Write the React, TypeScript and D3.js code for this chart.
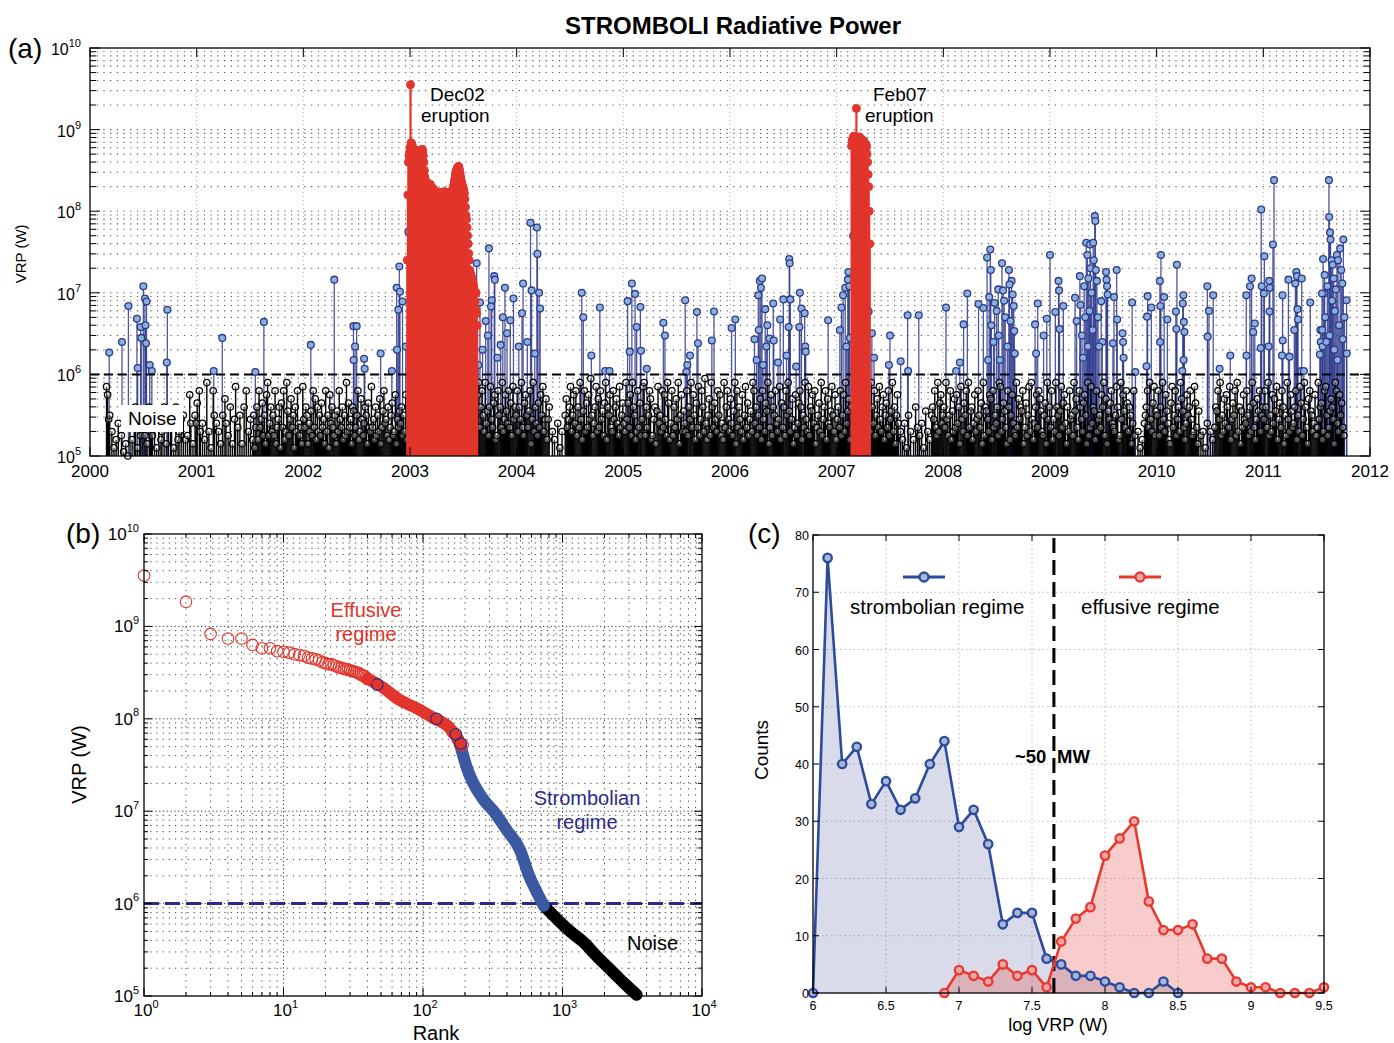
import React from "react";
import * as d3 from "d3";

const FONT = "'Liberation Sans', Arial, Helvetica, sans-serif";

// ---------- Panel (a) data ----------
const YEAR_TICKS = [2000, 2001, 2002, 2003, 2004, 2005, 2006, 2007, 2008, 2009, 2010, 2011, 2012];
// noise level codes: a = 1.0e5 ... t = 8.9e5 (0.05 decade steps), "." = no detection
const NOISE_CODES = "abcdefghijklmnopqrst";
const NOISE_LOG_LEVELS = [5.0, 5.05, 5.1, 5.15, 5.2, 5.25, 5.3, 5.35, 5.4, 5.45, 5.5, 5.55, 5.6, 5.65, 5.7, 5.75, 5.8, 5.85, 5.9, 5.95];
const NOISE_SEGMENTS: [number, number, string][] = [
  [2000.15, 2001.0, "rpjk.g.c.e.i..f.b.d.a.k.e.hm.c.jf.h.f.d.mjgf.k.c.i.eg.m.d.k.hi.c.m.eg.j.k.e.f.pi.d.ki"],
  [2001.0, 2002.0, "n.qg.i.e.s.g.c.qk.i.g.d.k.oi.f.m.d.jr.h.k.d.m.q.g.j.ekchmeqhjnfkdpsfimgkfqdhjmcnhqegslfjohkcmgqifhdr"],
  [2002.0, 2002.975, "jhmkdiglfqhoemgkfnhjdqgkcpimhfkdlgqjhmekfsgnhjdmlfhkqegojfimkdnhgrhjemfkgodhlqijfmehknfgpdjhlimfkgpe"],
  [2003.63, 2004.0, "pshmqkgsilfmrjhnpefqkmhsgjpliqhnfrjmk"],
  [2004.0, 2005.0, "qgmjshfnpkhlqdjsgmifnhpkrgjoejm..g.e..i.c.g..kohjmrgkpiqfmhsjelqgnhpjtkfimrgohqjlfnsemkphgqjmoifrhkn"],
  [2005.0, 2006.0, "igsjnhpfsmkegqhnfjrsfmhkqoefjmdlrikgqhpjfsneiqfmhojsdkpgligqfmjshpkenhrfjqmgtiekofsmhnjgqkpfieshmqjg"],
  [2006.0, 2007.0, "oiflsdqhmjgpekrhnfjlgsqimfkhoeqjgnlsdhpfmkqigjrenhmfqkslgjodhpfinqmekhsjgrfmlpiqdhkngsfjmqeoihlrkgpe"],
  [2007.0, 2007.14, "jmhqfkpgsiloem"],
  [2007.31, 2008.0, "gsmiqfkohrjgmpeknhqfjlsgmdkpi.g.e.i.c.k.g..e.m.h.f.i.c.l.g.e.kmjqhfsgnpik"],
  [2008.0, 2009.0, "mhsjfkqelgohpimdrjgnkqfshlmeipgjqkhndsfmljgpoeqhkimfsrgjnlhdqmekpigfshojmlqdhnfkrgsjeimphqolgfkndsjm"],
  [2009.0, 2010.0, "hqejgsmkflrhnpidmgqjkfsloheqmjgnpkdsfhrimleqgjkhpmsfodljnqihgkrmefsjplhqngmkdiqf..g.c.e.ikmqhsjgnrfl"],
  [2010.0, 2011.0, "kqfmhsjgpliednrhkqfjmgsolheipkmqjfgrnhdl.f.g.c.i..g.e.hmlqjsfkgoipmhrejnkqfsgmdlhpjiqkfmgsnhejolqgkm"],
  [2011.0, 2011.76, "jqmhsfkgpiolrejnhqmdkfsjgplhimqekgrnfjsmhdoqlkgipfhsjmnegqrkfhlomjdsqigpknhf"],
];

const BLUE_EVENTS: [number, number][] = [
  [2000.18, 1.85e6], [2000.30, 2.5e6], [2000.36, 6.9e6], [2000.44, 4.8e6], [2000.447, 1.2e6], [2000.475, 3.8e6],
  [2000.48, 2.8e6], [2000.50, 1.2e7], [2000.515, 8.5e6], [2000.53, 7.8e6], [2000.52, 4e6], [2000.525, 2.4e6],
  [2000.56, 1.3e6], [2000.58, 1.1e6], [2000.725, 6.2e6], [2000.72, 1.4e6],
  [2001.16, 1.1e6], [2001.24, 2.8e6], [2001.55, 1.07e6], [2001.63, 4.4e6],
  [2002.07, 2.3e6], [2002.29, 1.45e7], [2002.47, 3.9e6], [2002.50, 3.9e6], [2002.485, 2.2e6], [2002.472, 1.5e6],
  [2002.57, 1.55e6], [2002.575, 1.17e6], [2002.725, 1.8e6], [2002.83, 1.1e6], [2002.90, 2.1e7], [2002.875, 1.15e7],
  [2002.89, 6.2e6], [2002.906, 1.03e7], [2002.93, 7.8e6], [2002.878, 2e6], [2002.96, 2.2e6], [2002.985, 5.6e7],
  [2003.625, 2.3e7], [2003.656, 7.6e6], [2003.74, 3.5e7], [2003.79, 1.6e7], [2003.795, 1.45e7], [2003.766, 8.1e6],
  [2003.76, 6.8e6], [2003.71, 4.5e6], [2003.87, 5e6], [2003.89, 1.15e7], [2003.94, 4.6e6], [2003.97, 8.5e6],
  [2004.06, 1.3e7], [2004.05, 5.6e6], [2004.13, 7.2e7], [2004.19, 6.3e7], [2004.195, 3e7], [2004.14, 1.07e7],
  [2004.21, 1e7], [2004.22, 6.4e6], [2004.10, 2.5e6], [2003.85, 2.3e6], [2003.68, 2e6], [2003.73, 3e6],
  [2003.82, 1.6e6], [2003.91, 3.2e6], [2004.02, 2.2e6], [2004.17, 1.8e6], [2003.64, 1.3e6],
  [2004.61, 1e7], [2004.625, 5e6], [2004.70, 1.7e6], [2004.78, 6.6e6], [2004.83, 1.1e6], [2004.87, 1.1e6],
  [2005.04, 7.9e6], [2005.08, 1.3e7], [2005.11, 9.7e6], [2005.125, 3.8e6], [2005.16, 6.7e6], [2005.165, 1.95e6],
  [2005.06, 1.9e6], [2005.22, 1.17e6], [2005.375, 4.3e6], [2005.39, 3e6], [2005.58, 8.1e6], [2005.625, 1.7e6],
  [2005.60, 1.3e6], [2005.59, 1.07e6], [2005.69, 5.8e6], [2005.70, 2.4e6], [2005.83, 2.6e6], [2005.85, 5.9e6],
  [2006.015, 3.7e6], [2006.05, 4.7e6], [2006.23, 2.7e6], [2006.265, 9.3e6], [2006.28, 1.4e7], [2006.30, 1.5e7],
  [2006.29, 1.15e7], [2006.33, 6.3e6], [2006.34, 2.2e6], [2006.37, 2.75e6], [2006.405, 7.4e6], [2006.41, 2.6e6],
  [2006.47, 4.7e6], [2006.50, 8.3e6], [2006.555, 2.6e7], [2006.56, 2.3e7], [2006.565, 8.3e6], [2006.55, 3.8e6],
  [2006.655, 1e7], [2006.67, 6.4e6], [2006.70, 5.6e6], [2006.705, 2.2e6], [2006.71, 1.9e6], [2006.65, 3.8e6],
  [2006.92, 4.6e6], [2006.25, 1.5e6], [2006.27, 3.5e6], [2006.31, 1.3e6], [2006.35, 4e6], [2006.45, 1.4e6],
  [2006.53, 1.7e6], [2006.62, 1.25e6],
  [2007.045, 6.6e6], [2007.06, 9.3e6], [2007.11, 1.8e7], [2007.105, 1.45e7], [2007.08, 1.15e7], [2007.12, 1.2e7],
  [2007.125, 2.8e6], [2007.155, 5e7], [2007.03, 3.5e6], [2007.09, 2.2e6],
  [2007.30, 5.9e6], [2007.33, 3.2e6], [2007.35, 1.6e6], [2007.50, 3e6], [2007.49, 1.3e6], [2007.665, 5.3e6],
  [2007.77, 5.3e6], [2007.60, 1.45e6], [2007.67, 1.1e6],
  [2008.025, 6.6e6], [2008.12, 1.1e6], [2008.155, 1.4e6], [2008.19, 4.1e6], [2008.225, 9.8e6], [2008.33, 7.3e6],
  [2008.375, 6.5e6], [2008.41, 2.7e7], [2008.44, 3.4e7], [2008.445, 1.9e7], [2008.43, 8.9e6], [2008.45, 4e6],
  [2008.50, 6e6], [2008.515, 1.1e7], [2008.55, 2.3e7], [2008.56, 1.07e7], [2008.615, 1.9e7], [2008.64, 1.4e7],
  [2008.62, 1.26e7], [2008.65, 9.5e6], [2008.66, 6.9e6], [2008.665, 3.4e6], [2008.67, 1.8e6], [2008.47, 2.5e6],
  [2008.52, 3e6], [2008.58, 5e6], [2008.60, 2.2e6], [2008.53, 1.5e6], [2008.57, 8e6], [2008.63, 4.5e6],
  [2008.42, 1.5e6], [2008.48, 7.5e6],
  [2008.86, 4.1e6], [2008.885, 7.4e6], [2008.87, 1.8e6], [2008.94, 3e6], [2008.97, 4.8e6], [2009.0, 2.9e7],
  [2009.05, 5.8e6], [2009.08, 1.4e7], [2009.085, 1.07e7], [2009.09, 3.6e6], [2009.125, 6.9e6],
  [2009.235, 8.7e6], [2009.28, 1.6e7], [2009.285, 7.1e6], [2009.25, 4.5e6], [2009.34, 4.1e7], [2009.375, 3.9e7],
  [2009.405, 4.1e7], [2009.35, 2.9e7], [2009.38, 2e7], [2009.42, 8.7e7], [2009.425, 7.6e7], [2009.41, 2.5e7],
  [2009.43, 1.9e7], [2009.525, 1.8e7], [2009.53, 1.45e7], [2009.535, 1.2e7], [2009.54, 9.5e6], [2009.60, 8.9e6],
  [2009.625, 1.9e7], [2009.48, 7.9e6], [2009.49, 2.5e6], [2009.59, 2.4e6], [2009.30, 3e6], [2009.32, 1.2e7],
  [2009.33, 5e6], [2009.36, 1.5e7], [2009.37, 6e6], [2009.39, 1e7], [2009.40, 3.5e6], [2009.44, 1.4e7],
  [2009.45, 5e6], [2009.46, 2.2e6], [2009.31, 1.6e6], [2009.355, 2.2e6],
  [2009.63, 4.7e6], [2009.68, 3.2e6], [2009.685, 2.5e6], [2009.69, 1.6e6], [2009.77, 7.6e6], [2009.80, 1.07e6],
  [2009.915, 9.1e6], [2009.91, 5.1e6], [2009.95, 6.6e6], [2009.905, 1.26e6],
  [2010.04, 2.9e7], [2010.03, 1.4e7], [2010.035, 6.9e6], [2010.032, 2.5e6], [2010.07, 8.9e6], [2010.10, 4.7e6],
  [2010.19, 2.2e7], [2010.18, 5.9e6], [2010.185, 3.6e6], [2010.25, 9.3e6], [2010.245, 7.4e6], [2010.255, 4.4e6],
  [2010.26, 3.3e6], [2010.252, 1.5e6], [2010.24, 1.1e6],
  [2010.475, 1.2e7], [2010.49, 6e6], [2010.478, 2.9e6], [2010.53, 9.3e6], [2010.59, 1.17e6], [2010.69, 1.7e6],
  [2010.84, 9.3e6], [2010.842, 1.7e6], [2010.875, 1.2e7], [2010.89, 1.5e7], [2010.905, 3.3e6], [2010.92, 4.2e6],
  [2010.98, 1.05e8], [2010.985, 1.2e7], [2010.975, 2.1e6], [2011.01, 2.8e7], [2011.005, 9.8e6], [2011.055, 1.4e7],
  [2011.06, 1.15e7], [2011.058, 5.9e6], [2011.05, 2.2e6], [2011.09, 3.9e7], [2011.10, 2.4e8], [2011.18, 9.3e6],
  [2011.182, 2.6e6], [2011.175, 1.7e6], [2011.235, 1.45e7], [2011.245, 1.65e6], [2011.29, 3.5e6], [2011.30, 1.3e7],
  [2011.31, 1.8e7], [2011.315, 1.6e7], [2011.32, 6.3e6], [2011.325, 4.7e6], [2011.36, 1.5e7], [2011.355, 1.1e6],
  [2011.38, 1.1e6], [2011.44, 7.6e6],
  [2011.535, 3.5e6], [2011.538, 2.5e6], [2011.53, 1.75e6], [2011.56, 2.6e7], [2011.57, 9.8e6], [2011.575, 1.65e7],
  [2011.615, 2.4e8], [2011.617, 8.5e7], [2011.625, 5.5e7], [2011.63, 4.5e7], [2011.64, 2.5e7], [2011.65, 2.2e7],
  [2011.66, 1.5e7], [2011.69, 2.9e7], [2011.70, 2.5e7], [2011.72, 3.5e7], [2011.75, 4.5e7], [2011.73, 1.9e7],
  [2011.745, 2.7e6], [2011.78, 8.1e6], [2011.782, 1.8e6], [2011.55, 9.8e6], [2011.552, 3.5e6], [2011.555, 2.2e6],
  [2011.58, 5e6], [2011.60, 1.2e7], [2011.62, 3e6], [2011.645, 8e6], [2011.67, 6e6], [2011.68, 1.1e7],
  [2011.71, 4e6], [2011.74, 1.3e7], [2011.76, 5e6], [2011.59, 2.5e6], [2011.665, 2e6], [2011.695, 1.5e6],
];

// Effusive (eruption) series, log10(VRP)*100
const RED_STEP = 0.005;
const DEC02_START = 2002.975;
const DEC02_LOG = [
  740, 820, 860, 868, 872, 878, 955,
  884, 880, 882, 878, 876, 874, 872, 870, 873, 875, 871, 868, 866, 870, 872, 874, 871, 868, 865, 868, 872, 876, 873,
  868, 860, 850, 842, 838, 836, 834, 835, 833,
  832, 830, 828, 831, 833, 830, 826, 824, 826, 828, 825, 822, 824,
  823, 820, 822, 824, 821, 819, 822, 823, 820, 818, 821, 823, 822, 820, 819, 821, 823, 824, 822, 820,
  818, 820, 822, 823, 821, 819, 820, 822, 824, 823, 821, 820, 822, 825, 828, 832, 836, 840, 845, 848,
  850, 852, 853, 854, 855, 853, 850, 846, 842, 838,
  835, 832, 830, 828, 825, 822, 815, 805, 795, 790,
  780, 770, 760, 748, 740,
  728, 725, 722, 720, 718, 715, 712, 710, 705, 700,
  690, 680, 700, 675, 660,
];
const FEB07_START = 2007.14;
const FEB07_LOG = [
  880, 886, 888, 890, 892, 890, 889, 891, 888, 926,
  888, 890, 887, 885, 889, 891, 888, 884, 886, 888, 885, 882, 884, 886, 883, 880, 878, 882, 879,
  870, 860, 845, 830, 800, 760,
];

// ---------- Panel (b) data ----------
const RANK_X_TICKS = [0, 1, 2, 3, 4];
const VRP_EXPS = [5, 6, 7, 8, 9, 10];
const TOP_RANK_VRP = [
  3.55e9, 1.85e9, 8.3e8, 7.4e8, 7.4e8, 6.3e8, 5.8e8, 5.8e8, 5.4e8, 5.3e8,
  5.2e8, 5.0e8, 4.9e8, 4.8e8, 4.6e8, 4.5e8, 4.4e8, 4.3e8, 4.1e8, 4.0e8,
  3.9e8, 3.9e8, 3.8e8, 3.7e8, 3.6e8, 3.55e8, 3.5e8, 3.45e8, 3.4e8, 3.35e8,
  3.3e8, 3.25e8, 3.2e8, 3.15e8, 3.1e8, 3.0e8, 2.95e8, 2.9e8, 2.8e8, 2.7e8,
];
const EFFUSIVE_BAND: [number, number][] = [
  [40, 2.7e8], [50, 2.25e8], [68, 1.6e8], [90, 1.3e8], [119, 1.02e8], [155, 8e7], [172, 6.5e7], [185, 5.2e7],
];
const STROMBOLIAN_BAND: [number, number][] = [
  [185, 5.2e7], [207, 2.9e7], [270, 1.35e7], [330, 9.5e6], [397, 6.3e6], [496, 3.8e6], [580, 1.95e6], [660, 1.3e6], [735, 9.5e5],
];
const NOISE_BAND: [number, number][] = [
  [735, 9.5e5], [913, 6.8e5], [1100, 5.2e5], [1420, 3.8e5], [1800, 2.6e5], [2310, 1.8e5], [2800, 1.35e5], [3400, 1.03e5],
];
const BLUE_IN_RED: [number, number][] = [[47, 2.35e8], [125, 1.0e8], [172, 6.8e7], [186, 5.4e7]];
const RED_IN_BLUE: [number, number][] = [[163, 7.2e7], [178, 6.0e7], [192, 5.2e7]];

// ---------- Panel (c) data ----------
const LOGVRP_TICKS = [6, 6.5, 7, 7.5, 8, 8.5, 9, 9.5];
const COUNT_TICKS = [0, 10, 20, 30, 40, 50, 60, 70, 80];
const STROMB_X = [6.0, 6.1, 6.2, 6.3, 6.4, 6.5, 6.6, 6.7, 6.8, 6.9, 7.0, 7.1, 7.2, 7.3, 7.4, 7.5, 7.6, 7.7, 7.8, 7.9, 8.0, 8.1, 8.2, 8.3, 8.4, 8.5];
const STROMB_Y = [0, 76, 40, 43, 33, 37, 32, 34, 40, 44, 29, 32, 26, 12, 14, 14, 6, 5, 3, 3, 2, 1, 0, 0, 2, 0];
const EFF_X = [6.9, 7.0, 7.1, 7.2, 7.3, 7.4, 7.5, 7.6, 7.7, 7.8, 7.9, 8.0, 8.1, 8.2, 8.3, 8.4, 8.5, 8.6, 8.7, 8.8, 8.9, 9.0, 9.1, 9.2, 9.3, 9.4, 9.5];
const EFF_Y = [0, 4, 3, 2, 5, 3, 4, 1, 9, 13, 15, 24, 27, 30, 16, 11, 11, 12, 6, 6, 2, 1, 1, 0, 0, 0, 1];
const THRESHOLD_LOG = 7.65;

const RED = "#e2352b";
const NAVY = "#2e3a8c";
const LIGHTBLUE = "#8ab0dc";

function Pow10({ x, y, exp, size, sup, anchor }: any) {
  return (
    <text x={x} y={y} fontSize={size} textAnchor={anchor} fill="#000">
      <tspan>10</tspan>
      <tspan dy={-size * 0.5} fontSize={sup}>{exp}</tspan>
    </text>
  );
}

function logMinorValues(lo: number, hi: number) {
  const out: { v: number; major: boolean }[] = [];
  for (let e = lo; e < hi; e++) {
    for (let k = 1; k <= 9; k++) out.push({ v: k * Math.pow(10, e), major: k === 1 });
  }
  out.push({ v: Math.pow(10, hi), major: true });
  return out;
}

export default function App() {
  const xA = d3.scaleLinear().domain([2000, 2012]).range([90, 1370]);
  const yA = d3.scaleLog().domain([1e5, 1e10]).range([456, 48]);
  const xB = d3.scaleLog().domain([1, 1e4]).range([144, 702]);
  const yB = d3.scaleLog().domain([1e5, 1e10]).range([996, 534]);
  const xC = d3.scaleLinear().domain([6, 9.5]).range([813, 1324]);
  const yC = d3.scaleLinear().domain([0, 80]).range([993, 535]);

  const noisePts: { t: number; v: number }[] = [];
  NOISE_SEGMENTS.forEach(([a, b, s]) => {
    const n = s.length;
    for (let i = 0; i < n; i++) {
      const idx = NOISE_CODES.indexOf(s[i]);
      if (idx < 0) continue;
      noisePts.push({ t: a + ((b - a) * (i + 0.5)) / n, v: Math.pow(10, NOISE_LOG_LEVELS[idx]) });
    }
  });
  const redPts = [
    ...DEC02_LOG.map((l, i) => ({ t: DEC02_START + i * RED_STEP, v: Math.pow(10, l / 100) })),
    ...FEB07_LOG.map((l, i) => ({ t: FEB07_START + i * RED_STEP, v: Math.pow(10, l / 100) })),
  ];
  const yGridA = logMinorValues(5, 10).filter((d) => d.v > 1e5 && d.v < 1e10);
  const yTicksA = logMinorValues(5, 10);
  const base = yA(1e5);

  const xGridB = logMinorValues(0, 4);
  const yGridB = logMinorValues(5, 10);
  const bandLine = d3
    .line<[number, number]>()
    .x((d) => xB(d[0]))
    .y((d) => yB(d[1]))
    .curve(d3.curveMonotoneX);

  const strombPts = STROMB_X.map((x, i) => [x, STROMB_Y[i]] as [number, number]);
  const effPts = EFF_X.map((x, i) => [x, EFF_Y[i]] as [number, number]);
  const areaC = d3
    .area<[number, number]>()
    .x((d) => xC(d[0]))
    .y0(yC(0))
    .y1((d) => yC(d[1]));
  const lineC = d3
    .line<[number, number]>()
    .x((d) => xC(d[0]))
    .y((d) => yC(d[1]));

  return (
    <svg
      width={1394}
      height={1043}
      style={{ position: "absolute", left: 0, top: 0, background: "#fff" }}
      fontFamily={FONT}
    >
      <rect x={0} y={0} width={1394} height={1043} fill="#fff" />
      {/* ================= PANEL A ================= */}
      <text x={733} y={34} fontSize={24} fontWeight="bold" textAnchor="middle">
        STROMBOLI Radiative Power
      </text>
      <text x={8} y={58} fontSize={28}>(a)</text>
      {yGridA.map((d, i) => (
        <line key={"ga" + i} x1={90} x2={1370} y1={yA(d.v)} y2={yA(d.v)} stroke="#555" strokeWidth={1.1} strokeDasharray="1.2 5.5" />
      ))}
      {YEAR_TICKS.slice(1, -1).map((yr) => (
        <line key={"gv" + yr} x1={xA(yr)} x2={xA(yr)} y1={48} y2={456} stroke="#aaa" strokeWidth={1} strokeDasharray="1 3" />
      ))}
      <g>
        {BLUE_EVENTS.map((d, i) => (
          <line key={"bs" + i} x1={xA(d[0])} x2={xA(d[0])} y1={base} y2={yA(d[1])} stroke={NAVY} strokeOpacity={0.85} strokeWidth={1.3} />
        ))}
      </g>
      <g>
        {noisePts.map((d, i) => (
          <line key={"ns" + i} x1={xA(d.t)} x2={xA(d.t)} y1={base} y2={yA(d.v)} stroke="#000" strokeWidth={1.4} />
        ))}
        {noisePts.map((d, i) => (
          <circle key={"nc" + i} cx={xA(d.t)} cy={yA(d.v)} r={3.2} fill="#ffffff" fillOpacity={0.3} stroke="#000" strokeWidth={1.25} />
        ))}
      </g>
      <g>
        {BLUE_EVENTS.map((d, i) => (
          <circle key={"bc" + i} cx={xA(d[0])} cy={yA(d[1])} r={3.4} fill={LIGHTBLUE} stroke={NAVY} strokeWidth={1.3} />
        ))}
      </g>
      <line x1={90} x2={1370} y1={yA(1e6)} y2={yA(1e6)} stroke="#000" strokeWidth={2} strokeDasharray="9 5" />
      <g>
        {redPts.map((d, i) => (
          <line key={"rs" + i} x1={xA(d.t)} x2={xA(d.t)} y1={base} y2={yA(d.v)} stroke={RED} strokeWidth={2.2} />
        ))}
        {redPts.map((d, i) => (
          <circle key={"rc" + i} cx={xA(d.t)} cy={yA(d.v)} r={4} fill={RED} stroke={RED} strokeWidth={1} />
        ))}
      </g>
      <text x={430} y={101} fontSize={19}>Dec02</text>
      <text x={421} y={122} fontSize={19}>eruption</text>
      <text x={873} y={101} fontSize={19}>Feb07</text>
      <text x={865} y={122} fontSize={19}>eruption</text>
      <rect x={121} y={405} width={62} height={27} fill="#fff" />
      <text x={128} y={425} fontSize={19}>Noise</text>
      <rect x={90} y={48} width={1280} height={408} fill="none" stroke="#000" strokeWidth={1.3} />
      {yTicksA.map((d, i) => {
        const y = yA(d.v);
        const L = d.major ? 10 : 6;
        return (
          <g key={"ta" + i}>
            <line x1={90} x2={90 + L} y1={y} y2={y} stroke="#000" strokeWidth={1} />
            <line x1={1370} x2={1370 - L} y1={y} y2={y} stroke="#000" strokeWidth={1} />
          </g>
        );
      })}
      {YEAR_TICKS.map((yr) => (
        <g key={"tx" + yr}>
          <line x1={xA(yr)} x2={xA(yr)} y1={456} y2={447} stroke="#000" strokeWidth={1} />
          <line x1={xA(yr)} x2={xA(yr)} y1={48} y2={57} stroke="#000" strokeWidth={1} />
          <text x={xA(yr)} y={477} fontSize={17} textAnchor="middle">{yr}</text>
        </g>
      ))}
      {VRP_EXPS.map((e) => (
        <Pow10 key={"la" + e} x={81} y={yA(Math.pow(10, e)) + 7} exp={e} size={16} sup={11} anchor="end" />
      ))}
      <text transform={`translate(26,${yA(3e7)}) rotate(-90)`} fontSize={15} textAnchor="middle">VRP (W)</text>

      {/* ================= PANEL B ================= */}
      <text x={66} y={543} fontSize={28}>(b)</text>
      {xGridB.filter((d) => d.v > 1 && d.v < 1e4).map((d, i) => (
        <line key={"gbx" + i} x1={xB(d.v)} x2={xB(d.v)} y1={534} y2={996} stroke="#444" strokeWidth={1} strokeDasharray={d.major ? "1.3 2.5" : "1.2 5"} />
      ))}
      {yGridB.filter((d) => d.v > 1e5 && d.v < 1e10).map((d, i) => (
        <line key={"gby" + i} x1={144} x2={702} y1={yB(d.v)} y2={yB(d.v)} stroke="#444" strokeWidth={1} strokeDasharray={d.major ? "1.3 2.5" : "1.2 5"} />
      ))}
      <line x1={144} x2={702} y1={yB(1e6)} y2={yB(1e6)} stroke="#2b2a8a" strokeWidth={3} strokeDasharray="15 6" />
      <path d={bandLine(NOISE_BAND) || ""} fill="none" stroke="#000" strokeWidth={12} strokeLinecap="round" strokeLinejoin="round" />
      <path d={bandLine(STROMBOLIAN_BAND) || ""} fill="none" stroke="#3b58a2" strokeWidth={12} strokeLinecap="round" strokeLinejoin="round" />
      <path d={bandLine(EFFUSIVE_BAND) || ""} fill="none" stroke={RED} strokeWidth={12} strokeLinecap="round" strokeLinejoin="round" />
      {RED_IN_BLUE.map((d, i) => (
        <circle key={"rib" + i} cx={xB(d[0])} cy={yB(d[1])} r={5.8} fill="none" stroke={RED} strokeWidth={1.2} />
      ))}
      {BLUE_IN_RED.map((d, i) => (
        <circle key={"bir" + i} cx={xB(d[0])} cy={yB(d[1])} r={5.8} fill="none" stroke="#2b2a8a" strokeWidth={1.2} />
      ))}
      {TOP_RANK_VRP.map((v, i) => (
        <circle key={"tr" + i} cx={xB(i + 1)} cy={yB(v)} r={5.8} fill="none" stroke={RED} strokeWidth={1.1} />
      ))}
      <text x={366} y={617} fontSize={20} fill={RED} textAnchor="middle">Effusive</text>
      <text x={366} y={641} fontSize={20} fill={RED} textAnchor="middle">regime</text>
      <text x={587} y={805} fontSize={20} fill="#2b2a8a" textAnchor="middle">Strombolian</text>
      <text x={587} y={829} fontSize={20} fill="#2b2a8a" textAnchor="middle">regime</text>
      <text x={627} y={950} fontSize={20}>Noise</text>
      <rect x={144} y={534} width={558} height={462} fill="none" stroke="#000" strokeWidth={1.3} />
      {xGridB.map((d, i) => {
        const x = xB(d.v);
        const L = d.major ? 8 : 4;
        return (
          <g key={"tbx" + i}>
            <line x1={x} x2={x} y1={996} y2={996 - L} stroke="#000" />
            <line x1={x} x2={x} y1={534} y2={534 + L} stroke="#000" />
          </g>
        );
      })}
      {yGridB.map((d, i) => {
        const y = yB(d.v);
        const L = d.major ? 8 : 4;
        return (
          <g key={"tby" + i}>
            <line x1={144} x2={144 + L} y1={y} y2={y} stroke="#000" />
            <line x1={702} x2={702 - L} y1={y} y2={y} stroke="#000" />
          </g>
        );
      })}
      {VRP_EXPS.map((e) => (
        <Pow10 key={"lby" + e} x={139} y={yB(Math.pow(10, e)) + 6} exp={e} size={17} sup={11} anchor="end" />
      ))}
      {RANK_X_TICKS.map((e) => (
        <Pow10 key={"lbx" + e} x={xB(Math.pow(10, e)) + 2} y={1016} exp={e} size={17} sup={11} anchor="middle" />
      ))}
      <text x={436} y={1040} fontSize={20} textAnchor="middle">Rank</text>
      <text transform={`translate(86,${yB(3.2e7)}) rotate(-90)`} fontSize={20} textAnchor="middle">VRP (W)</text>

      {/* ================= PANEL C ================= */}
      <text x={748} y={543} fontSize={28}>(c)</text>
      {LOGVRP_TICKS.slice(1, -1).map((t) => (
        <line key={"gcx" + t} x1={xC(t)} x2={xC(t)} y1={535} y2={993} stroke="#bbb" strokeWidth={1} strokeDasharray="1.5 3" />
      ))}
      {COUNT_TICKS.slice(1, -1).map((t) => (
        <line key={"gcy" + t} x1={813} x2={1324} y1={yC(t)} y2={yC(t)} stroke="#bbb" strokeWidth={1} strokeDasharray="1.5 3" />
      ))}
      <path d={areaC(strombPts) || ""} fill={NAVY} fillOpacity={0.18} />
      <path d={areaC(effPts) || ""} fill={RED} fillOpacity={0.25} />
      <line x1={xC(THRESHOLD_LOG)} x2={xC(THRESHOLD_LOG)} y1={538} y2={993} stroke="#000" strokeWidth={3} strokeDasharray="15 7" />
      <path d={lineC(strombPts) || ""} fill="none" stroke="#2d4b9b" strokeWidth={2.6} />
      <path d={lineC(effPts) || ""} fill="none" stroke="#e8392f" strokeWidth={2.6} />
      {strombPts.map((d, i) => (
        <circle key={"sc" + i} cx={xC(d[0])} cy={yC(d[1])} r={4.2} fill="#a9b5d8" stroke="#2d4b9b" strokeWidth={2.3} />
      ))}
      {effPts.map((d, i) => (
        <circle key={"ec" + i} cx={xC(d[0])} cy={yC(d[1])} r={4.2} fill="#f0a6ad" stroke="#e8392f" strokeWidth={2.3} />
      ))}
      <line x1={903} x2={945} y1={577} y2={577} stroke="#2d4b9b" strokeWidth={3} />
      <circle cx={924} cy={577} r={4.5} fill="#a9b5d8" stroke="#2d4b9b" strokeWidth={2.3} />
      <text x={850} y={614} fontSize={20.5}>strombolian regime</text>
      <line x1={1119} x2={1161} y1={577} y2={577} stroke="#e8392f" strokeWidth={3} />
      <circle cx={1140} cy={577} r={4.5} fill="#f0a6ad" stroke="#e8392f" strokeWidth={2.3} />
      <text x={1081} y={614} fontSize={20.5}>effusive regime</text>
      <text x={1015} y={763} fontSize={18.5} fontWeight="bold">~50</text>
      <text x={1057} y={763} fontSize={18.5} fontWeight="bold">MW</text>
      <rect x={813} y={535} width={511} height={458} fill="none" stroke="#000" strokeWidth={1.3} />
      {LOGVRP_TICKS.map((t) => (
        <g key={"tcx" + t}>
          <line x1={xC(t)} x2={xC(t)} y1={993} y2={987} stroke="#000" />
          <line x1={xC(t)} x2={xC(t)} y1={535} y2={541} stroke="#000" />
          <text x={xC(t)} y={1010} fontSize={12.5} textAnchor="middle">{t}</text>
        </g>
      ))}
      {COUNT_TICKS.map((t) => (
        <g key={"tcy" + t}>
          <line x1={813} x2={819} y1={yC(t)} y2={yC(t)} stroke="#000" />
          <line x1={1324} x2={1318} y1={yC(t)} y2={yC(t)} stroke="#000" />
          <text x={809} y={yC(t) + 5} fontSize={12.5} textAnchor="end">{t}</text>
        </g>
      ))}
      <text x={1058} y={1031} fontSize={18} textAnchor="middle">log VRP (W)</text>
      <text transform={`translate(768,750) rotate(-90)`} fontSize={19} textAnchor="middle">Counts</text>
    </svg>
  );
}
